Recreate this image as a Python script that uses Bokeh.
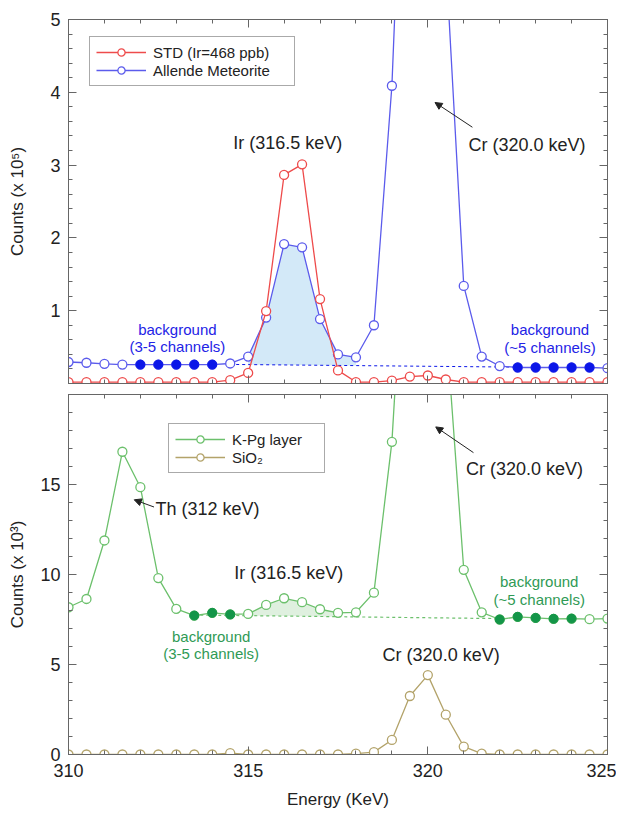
import numpy as np
from bokeh.plotting import figure
from bokeh.models import (Range1d, LinearAxis, FixedTicker, Label, Arrow, NormalHead,
                          Legend, LegendItem, CustomJSTickFormatter)
from bokeh.layouts import column
from bokeh.embed import file_html
from bokeh.resources import INLINE

# ---------------- data ----------------
energy = [310.0, 310.5, 311.0, 311.5, 312.0, 312.5, 313.0, 313.5, 314.0, 314.5,
          315.0, 315.5, 316.0, 316.5, 317.0, 317.5, 318.0, 318.5, 319.0, 319.5,
          320.0, 320.5, 321.0, 321.5, 322.0, 322.5, 323.0, 323.5, 324.0, 324.5, 325.0]

# top panel (x 10^5 counts)
std_counts = [0.02, 0.02, 0.02, 0.02, 0.02, 0.02, 0.02, 0.02, 0.02, 0.045,
              0.145, 0.995, 2.865, 3.01, 1.16, 0.18, 0.02, 0.02, 0.04, 0.095,
              0.11, 0.055, 0.02, 0.02, 0.02, 0.02, 0.02, 0.02, 0.02, 0.02, 0.02]
allende_counts = [0.295, 0.285, 0.27, 0.26, 0.26, 0.26, 0.26, 0.26, 0.26, 0.275,
                  0.37, 0.905, 1.915, 1.87, 0.885, 0.40, 0.36, 0.80, 4.09, 10.2,
                  12.5, 5.83, 1.34, 0.37, 0.24, 0.22, 0.22, 0.22, 0.22, 0.22, 0.21]
allende_bg_channels = [312.0, 312.5, 313.0, 313.5, 314.0, 322.5, 323.0, 323.5, 324.0, 324.5]
allende_baseline_x = [314.5, 322.5]
allende_baseline_y = [0.262, 0.225]
allende_peak_window = [315.0, 318.0]

# bottom panel (x 10^3 counts)
kpg_counts = [8.18, 8.64, 11.89, 16.82, 14.85, 9.80, 8.09, 7.72, 7.87, 7.78,
              7.81, 8.31, 8.68, 8.46, 8.07, 7.87, 7.90, 8.99, 17.37, 34.0,
              45.0, 24.0, 10.26, 7.90, 7.50, 7.65, 7.59, 7.54, 7.55, 7.52, 7.55]
sio2_counts = [0.0, 0.0, 0.0, 0.0, 0.0, 0.0, 0.0, 0.0, 0.0, 0.08,
               0.0, 0.0, 0.0, 0.0, 0.0, 0.0, 0.05, 0.13, 0.81, 3.25,
               4.41, 2.21, 0.44, 0.05, 0.0, 0.0, 0.0, 0.0, 0.0, 0.0, 0.0]
kpg_bg_channels = [313.5, 314.0, 314.5, 322.0, 322.5, 323.0, 323.5, 324.0]
kpg_baseline_x = [313.5, 322.0]
kpg_baseline_y = [7.75, 7.55]
kpg_peak_window = [315.0, 317.5]

x_ticks = [310, 315, 320, 325]
x_minor = [310, 311, 312, 313, 314, 315, 316, 317, 318, 319, 320, 321, 322, 323, 324, 325]
top_y_ticks = [1, 2, 3, 4, 5]
top_y_minor = [round(0.2 * i, 1) for i in range(26)]
bottom_y_ticks = [0, 5, 10, 15]
bottom_y_minor = list(range(21))

# ---------------- style ----------------
FONT = "Liberation Sans"
RED = "#ee4b4b"
BLUE = "#5b5bec"
BLUE_DOT = "#0b16e8"
BLUE_TXT = "#2323e6"
BLUE_SHADE = "#d3e9f8"
GREEN = "#6cc06c"
GREEN_DOT = "#139548"
GREEN_TXT = "#2f9a55"
GREEN_SHADE = "#dff0df"
TAN = "#b3a36a"
AX = "#666666"
INK = "#222222"


def style_axis(ax, ticker, show_labels):
    ax.ticker = ticker
    ax.axis_line_color = AX
    ax.major_tick_line_color = AX
    ax.minor_tick_line_color = AX
    ax.major_tick_in = 8
    ax.major_tick_out = 0
    ax.minor_tick_in = 4
    ax.minor_tick_out = 0
    ax.major_label_text_font = FONT
    ax.major_label_text_color = INK
    ax.axis_label_text_font = FONT
    ax.axis_label_text_color = INK
    ax.axis_label_text_font_style = "normal"
    ax.axis_label_text_font_size = "17px"
    if show_labels:
        ax.major_label_text_font_size = "18px"
        ax.major_label_standoff = 8
    else:
        ax.formatter = CustomJSTickFormatter(code="return ''")
        ax.major_label_text_font_size = "1px"
        ax.major_label_standoff = 0


def make_fig(frame_h, ymax, border_top, border_bottom):
    p = figure(frame_width=539, frame_height=frame_h,
               x_range=Range1d(310, 325), y_range=Range1d(0, ymax),
               output_backend="svg", toolbar_location=None,
               min_border_left=68, min_border_right=9,
               min_border_top=border_top, min_border_bottom=border_bottom)
    p.xgrid.visible = False
    p.ygrid.visible = False
    p.outline_line_color = AX
    p.background_fill_color = "white"
    p.border_fill_color = "white"
    return p


def add_label(p, x, y, text, color=INK, size="18px"):
    p.add_layout(Label(x=x, y=y, text=text, text_align="center", text_baseline="middle",
                       text_font=FONT, text_font_size=size, text_color=color))


def add_arrow(p, xs, ys, xe, ye):
    p.add_layout(Arrow(end=NormalHead(size=7, fill_color=INK, line_color=INK, line_width=1),
                       x_start=xs, y_start=ys, x_end=xe, y_end=ye,
                       line_color=INK, line_width=1))


def make_legend(items, loc, label_width):
    lg = Legend(items=items, location=loc, label_text_font=FONT, label_text_font_size="15px",
                label_text_color=INK, border_line_color="#555555", border_line_width=1,
                background_fill_alpha=1.0, glyph_width=50, glyph_height=18, label_height=18,
                padding=6, spacing=0, label_standoff=7, margin=0, label_width=label_width)
    return lg


lookup_allende = dict(zip(energy, allende_counts))
lookup_kpg = dict(zip(energy, kpg_counts))

# ---------------- top panel ----------------
p1 = make_fig(364, 5, 19, 5)

xs = [e for e in energy if allende_peak_window[0] <= e <= allende_peak_window[1]]
p1.varea(x=xs, y1=list(np.interp(xs, allende_baseline_x, allende_baseline_y)),
         y2=[lookup_allende[e] for e in xs], fill_color=BLUE_SHADE)
p1.line(allende_baseline_x, allende_baseline_y, line_color=BLUE_DOT, line_width=1,
        line_dash="3 3")

r_al_line = p1.line(energy, allende_counts, line_color=BLUE, line_width=1.3)
r_al_pts = p1.scatter(energy, allende_counts, marker="circle", size=9,
                      line_color=BLUE, fill_color="white", line_width=1.3)
p1.scatter(allende_bg_channels, [lookup_allende[e] for e in allende_bg_channels],
           marker="circle", size=9, line_color=BLUE_DOT, fill_color=BLUE_DOT)
r_std_line = p1.line(energy, std_counts, line_color=RED, line_width=1.3)
r_std_pts = p1.scatter(energy, std_counts, marker="circle", size=9,
                       line_color=RED, fill_color="white", line_width=1.3)

style_axis(p1.xaxis[0], FixedTicker(ticks=x_ticks, minor_ticks=x_minor), False)
style_axis(p1.yaxis[0], FixedTicker(ticks=top_y_ticks, minor_ticks=top_y_minor), True)
p1.yaxis[0].axis_label = "Counts (x 10\u2075)"
p1.yaxis[0].axis_label_standoff = 20
ax_r = LinearAxis()
style_axis(ax_r, FixedTicker(ticks=top_y_ticks, minor_ticks=top_y_minor), False)
p1.add_layout(ax_r, "right")
ax_t = LinearAxis()
style_axis(ax_t, FixedTicker(ticks=x_ticks, minor_ticks=x_minor), False)
p1.add_layout(ax_t, "above")

add_label(p1, 316.1, 3.3, "Ir (316.5 keV)")
add_label(p1, 322.76, 3.28, "Cr (320.0 keV)")
add_arrow(p1, 321.24, 3.52, 320.2, 3.86)
add_label(p1, 313.03, 0.745, "background", BLUE_TXT, "15px")
add_label(p1, 313.03, 0.51, "(3-5 channels)", BLUE_TXT, "15px")
add_label(p1, 323.4, 0.74, "background", BLUE_TXT, "15px")
add_label(p1, 323.4, 0.49, "(~5 channels)", BLUE_TXT, "15px")

lg1 = make_legend([LegendItem(label="STD (Ir=468 ppb)", renderers=[r_std_line, r_std_pts]),
                   LegendItem(label="Allende Meteorite", renderers=[r_al_line, r_al_pts])],
                  (21, 297), 135)
p1.add_layout(lg1, "center")

# ---------------- bottom panel ----------------
p2 = make_fig(360, 20, 6, 5)

xs2 = [e for e in energy if kpg_peak_window[0] <= e <= kpg_peak_window[1]]
p2.varea(x=xs2, y1=list(np.interp(xs2, kpg_baseline_x, kpg_baseline_y)),
         y2=[lookup_kpg[e] for e in xs2], fill_color=GREEN_SHADE)
p2.line(kpg_baseline_x, kpg_baseline_y, line_color=GREEN, line_width=1.2, line_dash="3 3")

r_kpg_line = p2.line(energy, kpg_counts, line_color=GREEN, line_width=1.3)
r_kpg_pts = p2.scatter(energy, kpg_counts, marker="circle", size=9,
                       line_color=GREEN, fill_color="white", line_width=1.3)
p2.scatter(kpg_bg_channels, [lookup_kpg[e] for e in kpg_bg_channels],
           marker="circle", size=9, line_color=GREEN_DOT, fill_color=GREEN_DOT)
r_si_line = p2.line(energy, sio2_counts, line_color=TAN, line_width=1.3)
r_si_pts = p2.scatter(energy, sio2_counts, marker="circle", size=9,
                      line_color=TAN, fill_color="white", line_width=1.3)

style_axis(p2.xaxis[0], FixedTicker(ticks=x_ticks, minor_ticks=x_minor), True)
p2.xaxis[0].axis_label = "Energy (KeV)"
p2.xaxis[0].major_label_standoff = 9
p2.xaxis[0].axis_label_standoff = 10
style_axis(p2.yaxis[0], FixedTicker(ticks=bottom_y_ticks, minor_ticks=bottom_y_minor), True)
p2.yaxis[0].axis_label = "Counts (x 10\u00b3)"
p2.yaxis[0].axis_label_standoff = 10
ax_r2 = LinearAxis()
style_axis(ax_r2, FixedTicker(ticks=bottom_y_ticks, minor_ticks=bottom_y_minor), False)
p2.add_layout(ax_r2, "right")
ax_t2 = LinearAxis()
style_axis(ax_t2, FixedTicker(ticks=x_ticks, minor_ticks=x_minor), False)
p2.add_layout(ax_t2, "above")

add_label(p2, 313.87, 13.66, "Th (312 keV)")
add_arrow(p2, 312.38, 13.75, 311.83, 14.15)
add_label(p2, 316.13, 10.11, "Ir (316.5 keV)")
add_label(p2, 322.69, 15.85, "Cr (320.0 keV)")
add_arrow(p2, 321.27, 16.77, 320.22, 18.2)
add_label(p2, 320.37, 5.55, "Cr (320.0 keV)")
add_label(p2, 313.97, 6.58, "background", GREEN_TXT, "15px")
add_label(p2, 313.97, 5.6, "(3-5 channels)", GREEN_TXT, "15px")
add_label(p2, 323.1, 9.6, "background", GREEN_TXT, "15px")
add_label(p2, 323.1, 8.6, "(~5 channels)", GREEN_TXT, "15px")

lg2 = make_legend([LegendItem(label="K-Pg layer", renderers=[r_kpg_line, r_kpg_pts]),
                   LegendItem(label="SiO\u2082", renderers=[r_si_line, r_si_pts])],
                  (100, 281), 86)
p2.add_layout(lg2, "center")

layout = column(p1, p2, spacing=0)
open("out.html", "w").write(file_html(layout, INLINE))
